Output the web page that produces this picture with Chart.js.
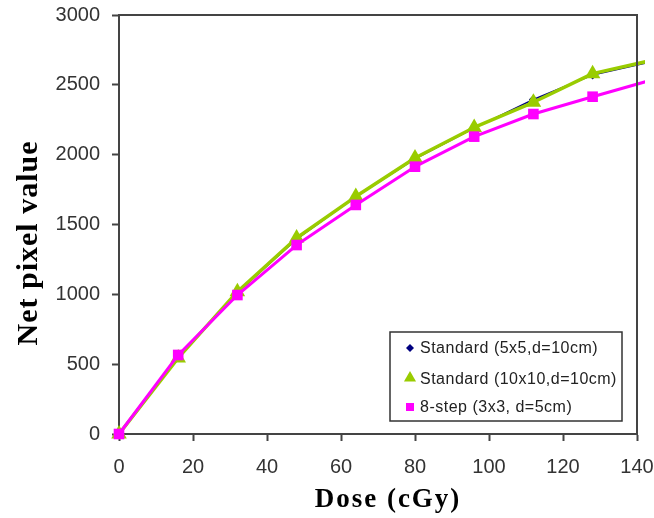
<!DOCTYPE html>
<html><head><meta charset="utf-8">
<script src="https://cdn.jsdelivr.net/npm/chart.js@4"></script>
<style>html,body{margin:0;padding:0;background:#fff;} canvas{display:block;}</style>
</head><body>
<canvas id="c" width="654" height="518"></canvas>
<script>
// ---- data ----
const doseValues = [0, 16, 32, 48, 64, 80, 96, 112, 128, 144];
const std5x5     = [0, 550, 1012, 1395, 1700, 1970, 2190, 2395, 2570, 2665];
const std10x10   = [0, 545, 1019, 1403, 1700, 1976, 2195, 2375, 2580, 2675];
const step8      = [0, 566, 995, 1353, 1640, 1914, 2129, 2291, 2415, 2535];
const seriesLabels = ['Standard (5x5,d=10cm)', 'Standard (10x10,d=10cm)', '8-step (3x3, d=5cm)'];
const xTickValues = [0, 20, 40, 60, 80, 100, 120, 140];
const yTickValues = [0, 500, 1000, 1500, 2000, 2500, 3000];
const xTitle = 'Dose (cGy)';
const yTitle = 'Net pixel value';

const colors = ['#000080', '#99CC00', '#FF00FF'];
const styles = ['rectRot', 'triangle', 'rect'];
const radii = [4.5, 9, 7.5];
const widths = [1.5, 3.5, 3];
const orders = [2, 1, 0];
const series = [std5x5, std10x10, step8];

function pts(vals) { return doseValues.map((x, i) => ({x: x, y: vals[i]})); }
function radArr(r) { return doseValues.map((x, i) => (x > xTickValues[xTickValues.length - 1] ? 0 : r)); }

const datasets = series.map((s, k) => ({
  label: seriesLabels[k],
  data: pts(s),
  borderColor: colors[k],
  backgroundColor: colors[k],
  borderWidth: widths[k],
  pointStyle: styles[k],
  pointRadius: radArr(radii[k]),
  pointBorderWidth: 0,
  pointBorderColor: colors[k],
  pointBackgroundColor: colors[k],
  tension: 0,
  order: orders[k],
  clip: {left: 12, top: 12, right: 8, bottom: 12}
}));

function drawMarker(ctx, style, x, y, r, color) {
  ctx.fillStyle = color;
  ctx.beginPath();
  if (style === 'rectRot') {
    ctx.moveTo(x - r, y); ctx.lineTo(x, y - r); ctx.lineTo(x + r, y); ctx.lineTo(x, y + r);
  } else if (style === 'triangle') {
    ctx.moveTo(x, y - r); ctx.lineTo(x + r * 0.866, y + r * 0.5); ctx.lineTo(x - r * 0.866, y + r * 0.5);
  } else {
    ctx.rect(x - r, y - r, 2 * r, 2 * r);
  }
  ctx.closePath();
  ctx.fill();
}

const decorPlugin = {
  id: 'decor',
  afterDatasetsDraw(chart) {
    const {ctx, chartArea: a} = chart;
    ctx.save();
    ctx.strokeStyle = '#444';
    ctx.lineWidth = 2;
    ctx.beginPath();
    ctx.moveTo(a.left, a.top);
    ctx.lineTo(a.right, a.top);
    ctx.lineTo(a.right, a.bottom);
    ctx.stroke();
    ctx.restore();
  },
  afterDraw(chart) {
    const {ctx, chartArea: a} = chart;
    ctx.save();
    // legend box
    const bx = a.left + 271, by = a.top + 317, bw = 232, bh = 89;
    ctx.fillStyle = '#fff';
    ctx.fillRect(bx, by, bw, bh);
    ctx.strokeStyle = '#333';
    ctx.lineWidth = 1.5;
    ctx.strokeRect(bx, by, bw, bh);
    const rowY = [by + 16, by + 47, by + 75];
    const legR = [4, 7, 4];
    ctx.font = '16px "Liberation Sans", Arial, sans-serif';
    ctx.letterSpacing = '0.5px';
    ctx.textBaseline = 'middle';
    ctx.textAlign = 'left';
    for (let k = 0; k < 3; k++) {
      drawMarker(ctx, styles[k], bx + 20, rowY[k] + (k === 1 ? -1 : 0), legR[k], colors[k]);
      ctx.fillStyle = '#222';
      ctx.fillText(seriesLabels[k], bx + 30, rowY[k] + 1);
    }
    // axis titles
    ctx.fillStyle = '#000';
    ctx.font = 'bold 27px "Liberation Serif", "Times New Roman", serif';
    ctx.letterSpacing = '2px';
    ctx.textAlign = 'center';
    ctx.textBaseline = 'alphabetic';
    ctx.fillText(xTitle, (a.left + a.right) / 2 + 10, 507);
    ctx.font = 'bold 30px "Liberation Serif", "Times New Roman", serif';
    ctx.letterSpacing = '1px';
    ctx.translate(37, 243);
    ctx.rotate(-Math.PI / 2);
    ctx.fillText(yTitle, 0, 0);
    ctx.restore();
  }
};

const tickFont = {family: '"Liberation Sans", Arial, sans-serif', size: 20};
const plain = v => String(v);

new Chart(document.getElementById('c'), {
  type: 'line',
  data: {datasets: datasets},
  options: {
    responsive: false,
    animation: false,
    layout: {padding: {left: 0, top: 15, right: 17, bottom: 0}},
    plugins: {legend: {display: false}, tooltip: {enabled: false}},
    elements: {line: {borderCapStyle: 'round', borderJoinStyle: 'round'}},
    scales: {
      x: {
        type: 'linear', min: 0, max: 140,
        afterBuildTicks(s) { s.ticks = xTickValues.map(v => ({value: v})); },
        afterFit(s) { s.height = 84; s.paddingLeft = 0; s.paddingRight = 0; s.paddingTop = 0; s.paddingBottom = 0; },
        ticks: {font: tickFont, color: '#333', padding: 14, maxRotation: 0, autoSkip: false, callback: plain},
        grid: {display: true, drawOnChartArea: false, drawTicks: true, tickLength: 7, tickColor: '#444', tickWidth: 2},
        border: {display: true, color: '#444', width: 2},
        title: {display: false, text: xTitle}
      },
      y: {
        type: 'linear', min: 0, max: 3000,
        afterBuildTicks(s) { s.ticks = yTickValues.map(v => ({value: v})); },
        afterFit(s) { s.width = 119; s.paddingLeft = 0; s.paddingRight = 0; s.paddingTop = 0; s.paddingBottom = 0; },
        ticks: {font: tickFont, color: '#333', padding: 12, autoSkip: false, callback: plain},
        grid: {display: true, drawOnChartArea: false, drawTicks: true, tickLength: 7, tickColor: '#444', tickWidth: 2},
        border: {display: true, color: '#444', width: 2},
        title: {display: false, text: yTitle}
      }
    }
  },
  plugins: [decorPlugin]
});
</script>
</body></html>
